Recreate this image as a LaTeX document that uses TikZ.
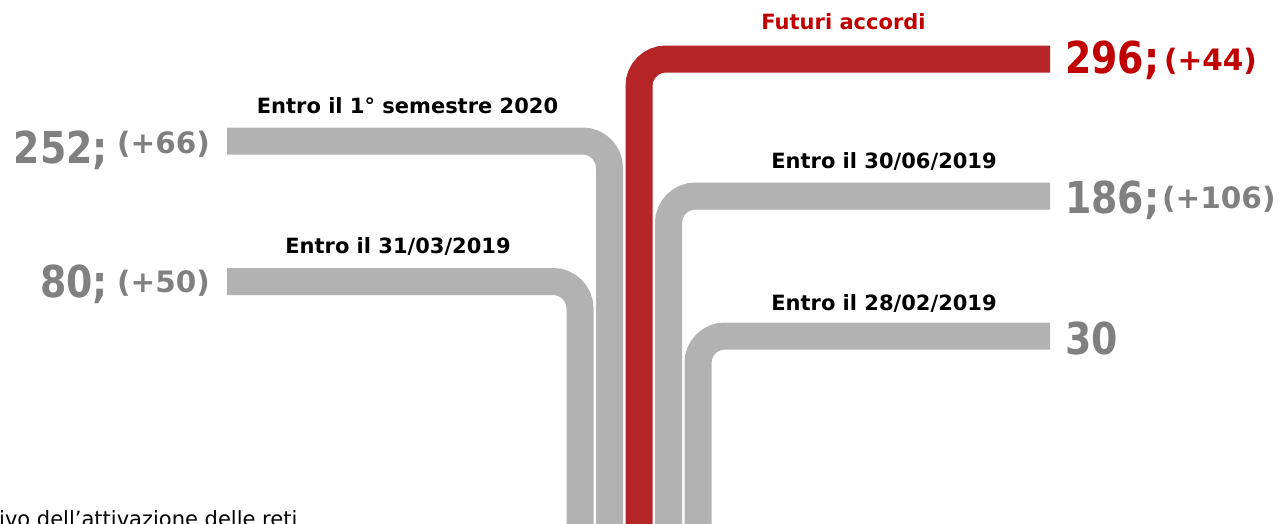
\documentclass[tikz,border=0pt]{standalone}
\usepackage{fontspec}
\setmainfont{DejaVu Sans}
\newfontfamily\numfont[FakeStretch=0.86]{DejaVu Sans}
\definecolor{bargray}{RGB}{178,178,178}
\definecolor{barred}{RGB}{181,36,38}
\definecolor{numgray}{RGB}{128,128,128}
\definecolor{numred}{RGB}{192,0,0}
\tikzset{
  bar/.style={line width=27pt, bargray, rounded corners=27pt},
  redbar/.style={bar, barred},
  when/.style={font=\bfseries\fontsize{21}{25}\selectfont, anchor=base, inner sep=0pt},
  bignum/.style={font=\numfont\bfseries\fontsize{44}{50}\selectfont, numgray, inner sep=0pt},
  smallnum/.style={font=\bfseries\fontsize{29.5}{34}\selectfont, numgray, inner sep=0pt}
}
\begin{document}
\begin{tikzpicture}[x=1pt,y=-1pt]
  \useasboundingbox (0,0) rectangle (1283,523);

  % Bar ends
  \coordinate (s80)  at (227,281.5);
  \coordinate (s252) at (227,141);
  \coordinate (s296) at (1050,59);
  \coordinate (s186) at (1050,196);
  \coordinate (s30)  at (1050,336);

  % The five bars, turning down to the bottom edge
  \draw[bar] (s80) -| (580,540);
  \draw[bar] (s252) -| (609.5,540);
  \draw[redbar] (s296) -| (639,540);
  \draw[bar] (s186) -| (668.5,540);
  \draw[bar] (s30) -| (698,540);

  % Dates above the bars
  \node[when] (l252) at (407.5,113) {Entro il 1° semestre 2020};
  \node[when] (l80) at (398,253) {Entro il 31/03/2019};
  \node[when, numred] (l296) at (843.5,29) {Futuri accordi};
  \node[when] (l186) at (884,168) {Entro il 30/06/2019};
  \node[when] (l30) at (884,310) {Entro il 28/02/2019};

  % Values on the left
  \node[bignum, anchor=base east] (v252) at (108,163) {252;};
  \node[smallnum, anchor=base west] (d252) at (117,153) {(+66)};
  \node[bignum, anchor=base east] (v80) at (108,297) {80;};
  \node[smallnum, anchor=base west] (d80) at (117,292) {(+50)};

  % Values on the right
  \node[bignum, numred, anchor=base west] (v296) at (1065,73) {296;};
  \node[smallnum, numred, anchor=base west] (d296) at (1164,70) {(+44)};
  \node[bignum, anchor=base west] (v186) at (1065,213) {186;};
  \node[smallnum, anchor=base west] (d186) at (1162,208) {(+106)};
  \node[bignum, anchor=base west] (v30) at (1065,354) {30};

  % Caption cut off at the bottom
  \node[font=\fontsize{21}{25}\selectfont, anchor=base west, inner sep=0pt] (note) at (-1,526) {ivo dell’attivazione delle reti};
\end{tikzpicture}
\end{document}
